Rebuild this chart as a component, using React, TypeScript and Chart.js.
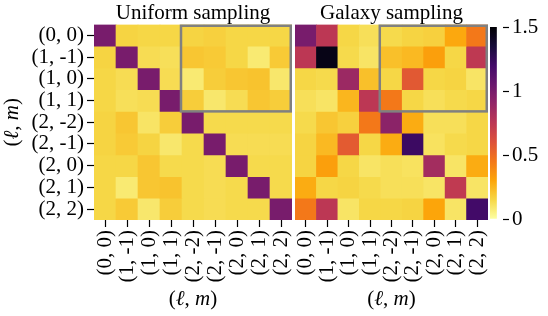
import { useEffect, useRef } from 'react';
import { Chart, registerables } from 'chart.js';

Chart.register(...registerables);

// Spherical-harmonic index pairs (ℓ, m) labelling both axes
const pairLabels = ['(0, 0)', '(1, -1)', '(1, 0)', '(1, 1)', '(2, -2)', '(2, -1)', '(2, 0)', '(2, 1)', '(2, 2)'];

// Normalised covariance, uniform sampling
const uniformCov = [
  [1.0, 0.16, 0.15, 0.15, 0.16, 0.17, 0.15, 0.15, 0.15],
  [0.16, 1.0, 0.13, 0.12, 0.2, 0.19, 0.15, 0.08, 0.19],
  [0.15, 0.13, 1.0, 0.13, 0.08, 0.18, 0.2, 0.21, 0.09],
  [0.15, 0.12, 0.13, 1.0, 0.18, 0.09, 0.13, 0.2, 0.18],
  [0.16, 0.2, 0.1, 0.18, 1.0, 0.14, 0.14, 0.14, 0.14],
  [0.16, 0.19, 0.16, 0.09, 0.14, 1.0, 0.13, 0.13, 0.13],
  [0.15, 0.15, 0.2, 0.14, 0.14, 0.13, 1.0, 0.14, 0.14],
  [0.15, 0.08, 0.2, 0.21, 0.14, 0.13, 0.14, 1.0, 0.14],
  [0.15, 0.19, 0.09, 0.18, 0.14, 0.13, 0.14, 0.14, 1.0],
];

// Normalised covariance, galaxy sampling
const galaxyCov = [
  [1.0, 0.75, 0.15, 0.12, 0.14, 0.16, 0.17, 0.29, 0.45],
  [0.75, 1.45, 0.14, 0.1, 0.22, 0.24, 0.32, 0.15, 0.74],
  [0.15, 0.14, 0.87, 0.22, 0.15, 0.57, 0.15, 0.16, 0.1],
  [0.12, 0.1, 0.25, 0.75, 0.45, 0.15, 0.12, 0.14, 0.15],
  [0.14, 0.2, 0.17, 0.45, 0.93, 0.28, 0.12, 0.12, 0.15],
  [0.16, 0.24, 0.56, 0.15, 0.28, 1.22, 0.11, 0.14, 0.15],
  [0.16, 0.32, 0.15, 0.1, 0.12, 0.11, 0.84, 0.1, 0.28],
  [0.28, 0.15, 0.16, 0.14, 0.12, 0.12, 0.1, 0.73, 0.1],
  [0.45, 0.75, 0.1, 0.15, 0.15, 0.16, 0.3, 0.1, 1.2],
];

// Colour scale
const colorMin = 0;
const colorMax = 1.5;
const colorTicks = [0, 0.5, 1, 1.5];

// Highlighted block: rows (ℓ ≤ 1) against columns (ℓ = 2)
const highlightRows = [0, 3];
const highlightCols = [4, 8];

const FAMILY = "'Liberation Serif', 'Times New Roman', serif";
const FONT_SIZE = 21;

const INFERNO = ['#000004', '#160b39', '#420a68', '#6a176e', '#932667', '#bc3754', '#dd513a', '#f37819', '#fca50a', '#f6d746', '#fcffa4'];
const INFERNO_RGB = INFERNO.map((h) => [1, 3, 5].map((i) => parseInt(h.slice(i, i + 2), 16)));

function inferno(t: number): string {
  const c = Math.min(1, Math.max(0, t)) * (INFERNO_RGB.length - 1);
  const i = Math.min(INFERNO_RGB.length - 2, Math.floor(c));
  const f = c - i;
  const a = INFERNO_RGB[i];
  const b = INFERNO_RGB[i + 1];
  const rgb = a.map((v, k) => Math.round(v + (b[k] - v) * f));
  return `rgb(${rgb[0]}, ${rgb[1]}, ${rgb[2]})`;
}

// reversed inferno over [colorMin, colorMax]
function cmap(v: number): string {
  return inferno(1 - (v - colorMin) / (colorMax - colorMin));
}

function drawPairTitle(ctx: CanvasRenderingContext2D, x: number, y: number, angle: number) {
  const parts: [string, boolean][] = [['(', false], ['ℓ', true], [', ', false], ['m', true], [')', false]];
  ctx.save();
  ctx.translate(x, y);
  ctx.rotate(angle);
  ctx.fillStyle = '#000';
  ctx.textAlign = 'left';
  ctx.textBaseline = 'alphabetic';
  const fontFor = (it: boolean) => `${it ? 'italic ' : ''}${FONT_SIZE}px ${FAMILY}`;
  const widths = parts.map(([s, it]) => {
    ctx.font = fontFor(it);
    return ctx.measureText(s).width;
  });
  let cx = -widths.reduce((p, w) => p + w, 0) / 2;
  parts.forEach(([s, it], i) => {
    ctx.font = fontFor(it);
    ctx.fillText(s, cx, 0);
    cx += widths[i];
  });
  ctx.restore();
}

function overlayPlugin(title: string, showYTitle: boolean) {
  return {
    id: 'heatmapOverlay',
    afterDraw(chart: any) {
      const { ctx, chartArea, scales } = chart;
      const xs = scales.x;
      const ys = scales.y;
      const cellW = xs.getPixelForValue(1) - xs.getPixelForValue(0);
      const cx = (chartArea.left + chartArea.right) / 2;

      // highlighted block
      const lw = 2.5;
      const x0 = xs.getPixelForValue(highlightCols[0]) - cellW / 2 - 1;
      const x1 = xs.getPixelForValue(highlightCols[1]) + cellW / 2 - lw / 2;
      const y0 = ys.getPixelForValue(highlightRows[0] - 0.5) + lw / 2;
      const y1 = ys.getPixelForValue(highlightRows[1] + 0.5);
      ctx.save();
      ctx.strokeStyle = '#808080';
      ctx.lineWidth = lw;
      ctx.strokeRect(x0, y0, x1 - x0, y1 - y0);
      ctx.restore();

      // panel title
      ctx.save();
      ctx.fillStyle = '#000';
      ctx.font = `${FONT_SIZE}px ${FAMILY}`;
      ctx.textAlign = 'center';
      ctx.textBaseline = 'alphabetic';
      ctx.fillText(title, cx, 18.5);
      ctx.restore();

      // axis titles
      drawPairTitle(ctx, cx, 305, 0);
      if (showYTitle) drawPairTitle(ctx, 18, (chartArea.top + chartArea.bottom) / 2, -Math.PI / 2);
    },
  };
}

const tickGrid = {
  display: true,
  drawOnChartArea: false,
  drawTicks: true,
  tickLength: 7,
  tickWidth: 1.2,
  tickColor: '#000',
  offset: false,
};

function heatmapConfig(matrix: number[][], title: string, withYAxis: boolean, padLeft: number): any {
  const datasets = matrix.map((row, r) => ({
    data: row.map(() => [r - 0.5, r + 0.5]),
    backgroundColor: row.map((v) => cmap(v)),
    borderWidth: 0,
    grouped: false,
    barPercentage: 1,
    categoryPercentage: 1,
  }));
  return {
    type: 'bar',
    data: { labels: pairLabels, datasets },
    plugins: [overlayPlugin(title, withYAxis)],
    options: {
      animation: false,
      responsive: false,
      events: [],
      layout: { padding: { top: 24.5, left: padLeft, right: 0, bottom: 0 } },
      plugins: { legend: { display: false }, tooltip: { enabled: false }, title: { display: false } },
      scales: {
        x: {
          type: 'category',
          offset: true,
          grid: tickGrid,
          border: { display: false },
          ticks: {
            color: '#000',
            font: { family: FAMILY, size: FONT_SIZE },
            minRotation: 90,
            maxRotation: 90,
            padding: 3,
            autoSkip: false,
          },
          afterFit: (s: any) => {
            s.height = 96;
            s.paddingLeft = 0;
            s.paddingRight = 0;
          },
        },
        y: {
          type: 'linear',
          display: withYAxis,
          reverse: true,
          min: -0.5,
          max: 8.5,
          grid: tickGrid,
          border: { display: false },
          afterBuildTicks: (s: any) => {
            s.ticks = pairLabels.map((_, i) => ({ value: i }));
          },
          ticks: {
            color: '#000',
            font: { family: FAMILY, size: FONT_SIZE },
            padding: 3,
            autoSkip: false,
            callback: (_v: any, i: number) => pairLabels[i],
          },
          afterFit: (s: any) => {
            s.width = withYAxis ? 94 : 0;
            s.paddingTop = 0;
            s.paddingBottom = 0;
          },
        },
      },
    },
  };
}

function colorbarConfig(): any {
  return {
    type: 'bar',
    data: {
      labels: [''],
      datasets: [
        {
          data: [[colorMin, colorMax]],
          borderWidth: 0,
          barPercentage: 1,
          categoryPercentage: 1,
          backgroundColor: (c: any) => {
            const chart = c.chart;
            if (!chart.chartArea) return 'transparent';
            const ys = chart.scales.y;
            const g = chart.ctx.createLinearGradient(0, ys.getPixelForValue(colorMin), 0, ys.getPixelForValue(colorMax));
            const n = 40;
            for (let i = 0; i <= n; i++) g.addColorStop(i / n, cmap(colorMin + ((colorMax - colorMin) * i) / n));
            return g;
          },
        },
      ],
    },
    options: {
      animation: false,
      responsive: false,
      events: [],
      layout: { padding: { top: 27, left: 2, right: 0, bottom: 97 } },
      plugins: { legend: { display: false }, tooltip: { enabled: false } },
      scales: {
        x: { display: false, offset: false },
        y: {
          position: 'right',
          min: colorMin,
          max: colorMax,
          grid: { ...tickGrid, tickLength: 6 },
          border: { display: false },
          afterBuildTicks: (s: any) => {
            s.ticks = colorTicks.map((v) => ({ value: v }));
          },
          ticks: {
            color: '#000',
            font: { family: FAMILY, size: FONT_SIZE },
            padding: 3,
            callback: (v: any) => String(v),
          },
          afterFit: (s: any) => {
            s.width = 45;
            s.paddingTop = 0;
            s.paddingBottom = 0;
          },
        },
      },
    },
  };
}

export default function App() {
  const leftRef = useRef<HTMLCanvasElement>(null);
  const rightRef = useRef<HTMLCanvasElement>(null);
  const barRef = useRef<HTMLCanvasElement>(null);

  useEffect(() => {
    const charts = [
      new Chart(leftRef.current!, heatmapConfig(uniformCov, 'Uniform sampling', true, 0)),
      new Chart(rightRef.current!, heatmapConfig(galaxyCov, 'Galaxy sampling', false, 3)),
      new Chart(barRef.current!, colorbarConfig()),
    ];
    return () => charts.forEach((c) => c.destroy());
  }, []);

  return (
    <div style={{ position: 'fixed', left: 0, top: 0, width: 548, height: 316, background: '#fff' }}>
      <canvas ref={leftRef} width={292} height={316} style={{ position: 'absolute', left: 0, top: 0 }} />
      <canvas ref={rightRef} width={196} height={316} style={{ position: 'absolute', left: 292, top: 0 }} />
      <canvas ref={barRef} width={60} height={316} style={{ position: 'absolute', left: 488, top: 0 }} />
    </div>
  );
}
